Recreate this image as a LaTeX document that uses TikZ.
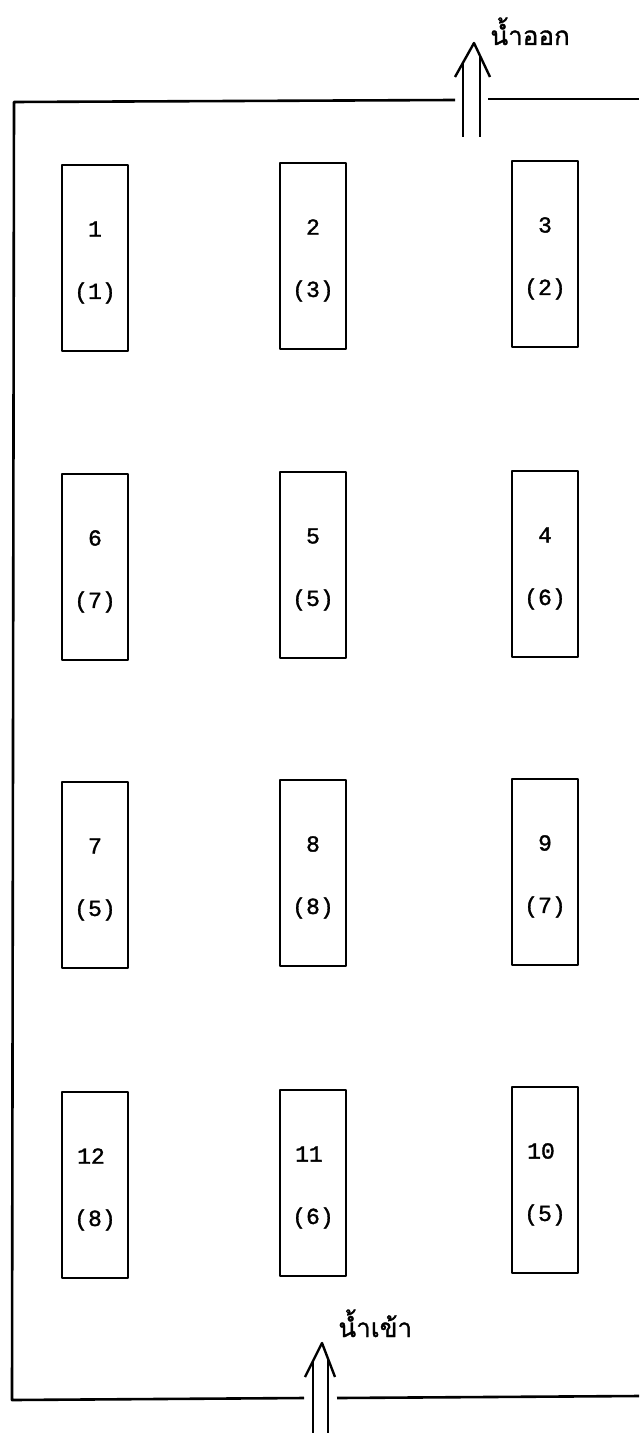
\documentclass[tikz,border=0pt]{standalone}
\usepackage{fontspec}
\usepackage{tikz}
\usetikzlibrary{positioning,calc}
\newfontfamily\thaifont[Script=Thai,FakeBold=1.2]{Loma}
\newfontfamily\plotfont[FakeBold=1.4]{Liberation Mono}

\tikzset{
  plotbox/.style={draw,line width=1.3pt,minimum width=33pt,minimum height=93pt,inner sep=0pt},
  plotlbl/.style={font=\plotfont\fontsize{11.5}{13}\selectfont,inner sep=0pt},
  flowlbl/.style={font=\thaifont\fontsize{13}{15}\selectfont,anchor=base west,inner sep=0pt},
  pondline/.style={line width=1.3pt},
  flowarrow/.style={line width=1.2pt}
}

\begin{document}
\begin{tikzpicture}[x=0.5pt,y=-0.5pt,line join=round]
  \useasboundingbox (0,0) rectangle (639,1433);
  % --- pond outline, broken where the water passes ---
  \draw[pondline] (455,100) -- (14,102) -- (12,1400) -- (304,1398);
  \draw[pondline] (488,99) -- (639,99);
  \draw[pondline] (337,1398) -- (639,1396);
  % --- plots: number / (treatment) / centre x / centre y ---
  \foreach \n/\t/\x/\y in {1/1/95/258, 2/3/313/256, 3/2/545/254,
                           6/7/95/567, 5/5/313/565, 4/6/545/564,
                           7/5/95/875, 8/8/313/873, 9/7/545/872,
                           12/8/95/1185, 11/6/313/1183, 10/5/545/1180} {
    \pgfmathsetmacro{\dx}{\n>9 ? -4 : 0}
    \node[plotbox] (plot\n) at (\x,\y) {};
    \node[plotlbl] (num\n) at ($(plot\n.center)+(\dx,-29)$) {\n};
    \node[plotlbl] (trt\n) at ($(plot\n.center)+(0,35)$) {(\t)};
  }
  % --- outflow at the top ---
  \coordinate (outtip) at (474,43);
  \draw[flowarrow] (455,77) -- (outtip) -- (490,77);
  \draw[flowarrow] (463,137) -- (463,63) (480,137) -- (480,56);
  \node[flowlbl] (outlbl) at (490,45) {น้ำออก};
  % --- inflow at the bottom ---
  \coordinate (intip) at (322,1343);
  \draw[flowarrow] (305,1377) -- (intip) -- (335,1377);
  \draw[flowarrow] (313,1433) -- (313,1361) (328,1433) -- (328,1359);
  \node[flowlbl] (inlbl) at (338,1337) {น้ำเข้า};
\end{tikzpicture}
\end{document}
